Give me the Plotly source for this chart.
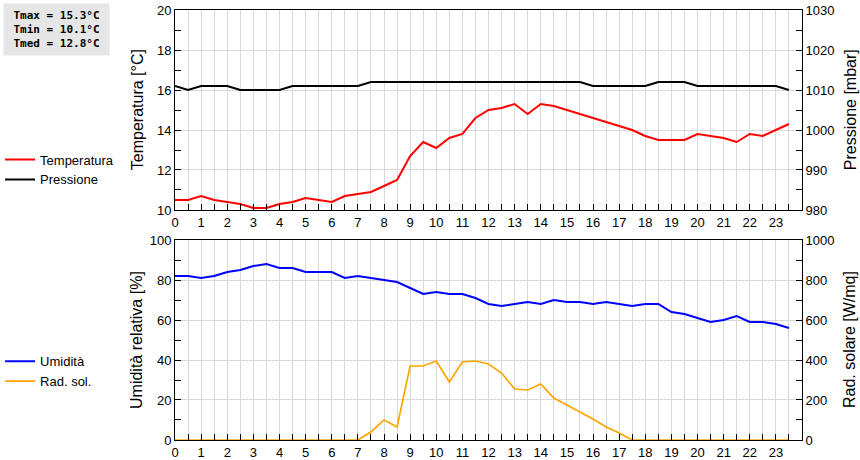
import plotly.graph_objects as go

hours = [0, 0.5, 1, 1.5, 2, 2.5, 3, 3.5, 4, 4.5, 5, 5.5, 6, 6.5, 7, 7.5,
         8, 8.5, 9, 9.5, 10, 10.5, 11, 11.5, 12, 12.5, 13, 13.5, 14, 14.5, 15, 15.5,
         16, 16.5, 17, 17.5, 18, 18.5, 19, 19.5, 20, 20.5, 21, 21.5, 22, 22.5, 23, 23.5]

temperatura = [10.5, 10.5, 10.7, 10.5, 10.4, 10.3, 10.1, 10.1, 10.3, 10.4, 10.6, 10.5,
               10.4, 10.7, 10.8, 10.9, 11.2, 11.5, 12.7, 13.4, 13.1, 13.6, 13.8, 14.6,
               15.0, 15.1, 15.3, 14.8, 15.3, 15.2, 15.0, 14.8, 14.6, 14.4, 14.2, 14.0,
               13.7, 13.5, 13.5, 13.5, 13.8, 13.7, 13.6, 13.4, 13.8, 13.7, 14.0, 14.3]

pressione = [1011, 1010, 1011, 1011, 1011, 1010, 1010, 1010, 1010, 1011, 1011, 1011,
             1011, 1011, 1011, 1012, 1012, 1012, 1012, 1012, 1012, 1012, 1012, 1012,
             1012, 1012, 1012, 1012, 1012, 1012, 1012, 1012, 1011, 1011, 1011, 1011,
             1011, 1012, 1012, 1012, 1011, 1011, 1011, 1011, 1011, 1011, 1011, 1010]

umidita = [82, 82, 81, 82, 84, 85, 87, 88, 86, 86, 84, 84,
           84, 81, 82, 81, 80, 79, 76, 73, 74, 73, 73, 71,
           68, 67, 68, 69, 68, 70, 69, 69, 68, 69, 68, 67,
           68, 68, 64, 63, 61, 59, 60, 62, 59, 59, 58, 56]

rad_sol = [0, 0, 0, 0, 0, 0, 0, 0, 0, 0, 0, 0,
           0, 0, 0, 40, 100, 65, 370, 370, 395, 290, 390, 395,
           380, 335, 255, 250, 280, 210, 175, 140, 105, 65, 35, 0,
           0, 0, 0, 0, 0, 0, 0, 0, 0, 0, 0, 0]

hour_ticks = list(range(0, 24))
stats_lines = ["Tmax = 15.3°C", "Tmin = 10.1°C", "Tmed = 12.8°C"]

FONT = "Liberation Sans, Arial, sans-serif"
GRID = "#d9d9d9"

fig = go.Figure()
fig.add_trace(go.Scatter(x=hours, y=temperatura, name="Temperatura", mode="lines",
                         line=dict(color="#ff0000", width=2), xaxis="x", yaxis="y",
                         legend="legend"))
fig.add_trace(go.Scatter(x=hours, y=pressione, name="Pressione", mode="lines",
                         line=dict(color="#000000", width=2), xaxis="x", yaxis="y2",
                         legend="legend"))
fig.add_trace(go.Scatter(x=hours, y=umidita, name="Umidità", mode="lines",
                         line=dict(color="#0000ff", width=2), xaxis="x2", yaxis="y3",
                         legend="legend2"))
fig.add_trace(go.Scatter(x=hours, y=rad_sol, name="Rad. sol.", mode="lines",
                         line=dict(color="#ffa500", width=1.7), xaxis="x2", yaxis="y4",
                         legend="legend2"))

top_dom = [0.5349, 1.0]
bot_dom = [0.0, 0.4651]

xcommon = dict(range=[0, 24], tickmode="array", tickvals=hour_ticks,
               ticktext=[str(h) for h in hour_ticks],
               showline=True, linecolor="black", linewidth=1, mirror=True,
               ticks="inside", ticklen=6, tickcolor="black", automargin=False,
               showgrid=True, gridcolor=GRID, gridwidth=1, zeroline=False,
               minor=dict(dtick=0.5, ticks="inside", ticklen=6, tickcolor="black",
                          showgrid=True, gridcolor=GRID, gridwidth=1),
               tickfont=dict(family=FONT, size=13, color="black"))

ycommon = dict(showline=True, linecolor="black", linewidth=1, automargin=False,
               ticks="inside", ticklen=6, tickcolor="black", zeroline=False,
               tickfont=dict(family=FONT, size=13, color="black"))

fig.update_layout(
    width=860, height=460,
    margin=dict(l=175, r=58, t=10, b=20, autoexpand=False),
    paper_bgcolor="white", plot_bgcolor="white",
    font=dict(family=FONT, size=13, color="black"),
    xaxis=dict(domain=[0, 1], anchor="y", **xcommon),
    xaxis2=dict(domain=[0, 1], anchor="y3", **xcommon),
    yaxis=dict(domain=top_dom, anchor="x", range=[10, 20], dtick=2,
               showgrid=True, gridcolor=GRID,
               minor=dict(dtick=1, ticks="inside", ticklen=6, tickcolor="black"),
               **ycommon),
    yaxis2=dict(domain=top_dom, anchor="x", overlaying="y", side="right",
                range=[980, 1030], dtick=10, showgrid=False,
                minor=dict(dtick=5, ticks="inside", ticklen=6, tickcolor="black"),
                **ycommon),
    yaxis3=dict(domain=bot_dom, anchor="x2", range=[0, 100], dtick=20,
                showgrid=True, gridcolor=GRID,
                minor=dict(dtick=10, ticks="inside", ticklen=6, tickcolor="black"),
                **ycommon),
    yaxis4=dict(domain=bot_dom, anchor="x2", overlaying="y3", side="right",
                range=[0, 1000], dtick=200, showgrid=False,
                minor=dict(dtick=100, ticks="inside", ticklen=6, tickcolor="black"),
                **ycommon),
    legend=dict(x=-0.279, y=0.629, xanchor="left", yanchor="middle",
                bgcolor="rgba(0,0,0,0)", font=dict(family=FONT, size=13, color="black"),
                tracegroupgap=0),
    legend2=dict(x=-0.279, y=0.16, xanchor="left", yanchor="middle",
                 bgcolor="rgba(0,0,0,0)", font=dict(family=FONT, size=13, color="black"),
                 tracegroupgap=0),
)

titles = [
    ("Temperatura [°C]", -0.0606, 0.767),
    ("Pressione [mbar]", 1.0766, 0.767),
    ("Umidità relativa [%]", -0.0606, 0.2326),
    ("Rad. solare [W/mq]", 1.0766, 0.2326),
]
for text, xx, yy in titles:
    fig.add_annotation(text=text, x=xx, y=yy, xref="paper", yref="paper",
                       xanchor="center", yanchor="middle", textangle=-90,
                       showarrow=False, font=dict(family=FONT, size=16, color="black"))

fig.add_annotation(text="<br>".join(stats_lines), x=-0.2743, y=1.0163,
                   xref="paper", yref="paper", xanchor="left", yanchor="top",
                   showarrow=False, align="center", bgcolor="#e6e6e6",
                   width=99, height=45, borderpad=3,
                   font=dict(family="DejaVu Sans Mono", size=11, color="black",
                             weight="bold"))

fig.write_html("out.html", config={"displayModeBar": False},
               post_script="document.body.style.margin='0';"
                           "document.body.style.overflow='hidden';")
